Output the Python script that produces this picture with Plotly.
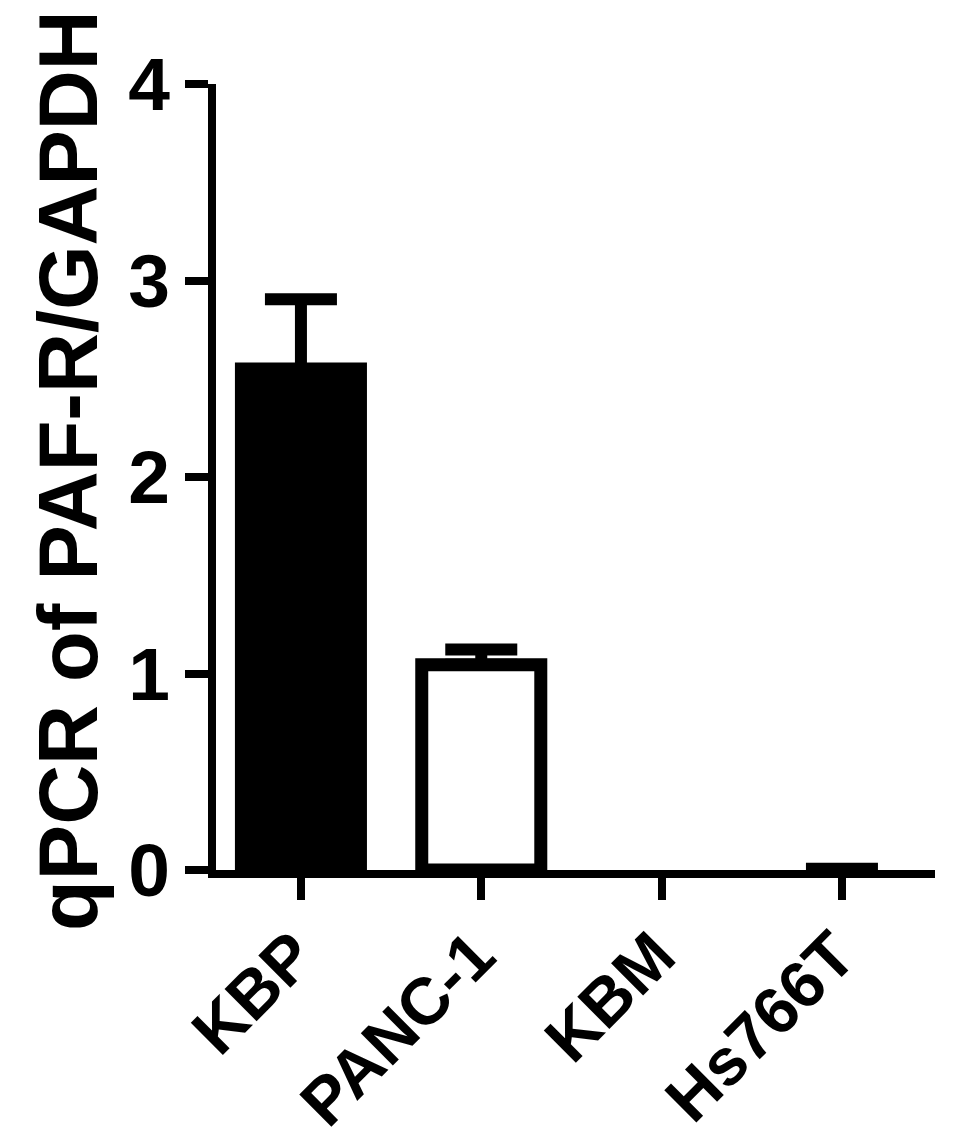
import plotly.graph_objects as go

# qPCR PAF-R / GAPDH per cell line
cell_lines = ["KBP", "PANC-1", "KBM", "Hs766T"]
expr_mean = [2.55, 1.045, 0.001, 0.003]
bar_fill = ["black", "white", "white", "white"]

# SEM, only for the lines that show an error bar
err_lines = ["KBP", "PANC-1", "Hs766T"]
err_mean = [2.55, 1.045, 0.003]
err_sem = [0.355, 0.077, 0.003]

y_ticks = [0, 1, 2, 3, 4]

FONT = "Liberation Sans, Arial, sans-serif"

fig = go.Figure()
fig.add_trace(go.Bar(
    x=cell_lines,
    y=expr_mean,
    width=0.66,
    marker=dict(color=bar_fill, line=dict(color="black", width=[13, 13, 0, 0])),
))
# transparent bars just to carry the error bars
fig.add_trace(go.Bar(
    x=err_lines,
    y=err_mean,
    width=0.66,
    marker=dict(color="rgba(0,0,0,0)", line=dict(width=0)),
    error_y=dict(type="data", symmetric=False, array=err_sem,
                 arrayminus=[0] * len(err_sem),
                 color="black", thickness=12, width=36),
    hoverinfo="skip",
))

axis_common = dict(
    showline=True, linecolor="black", linewidth=8,
    ticks="outside", tickcolor="black", tickwidth=8,
    showgrid=False, zeroline=False,
)

fig.update_xaxes(
    range=[-0.471, 3.516], ticklen=22, tickangle=-45,
    ticklabelshift=-6, ticklabelstandoff=-10,
    tickfont=dict(family=FONT, size=66, color="black", weight="bold"),
    **axis_common,
)
fig.update_yaxes(
    range=[0, 4], tickvals=y_ticks, ticklen=23,
    tickfont=dict(family=FONT, size=75, color="black", weight="bold"),
    **axis_common,
)

fig.add_annotation(
    text="qPCR of PAF-R/GAPDH", textangle=-90, showarrow=False,
    xref="paper", yref="paper", x=-0.2045, y=0.509,
    xanchor="center", yanchor="middle",
    font=dict(family=FONT, size=83, color="black", weight="bold"),
)

# the page body adds an 8px offset, so margins are trimmed by 8 on the left/top
fig.update_layout(
    width=958, height=1146,
    margin=dict(l=208, r=31, t=76, b=283.5),
    barmode="overlay",
    plot_bgcolor="white", paper_bgcolor="white",
    showlegend=False,
)

fig.write_html("out.html")
